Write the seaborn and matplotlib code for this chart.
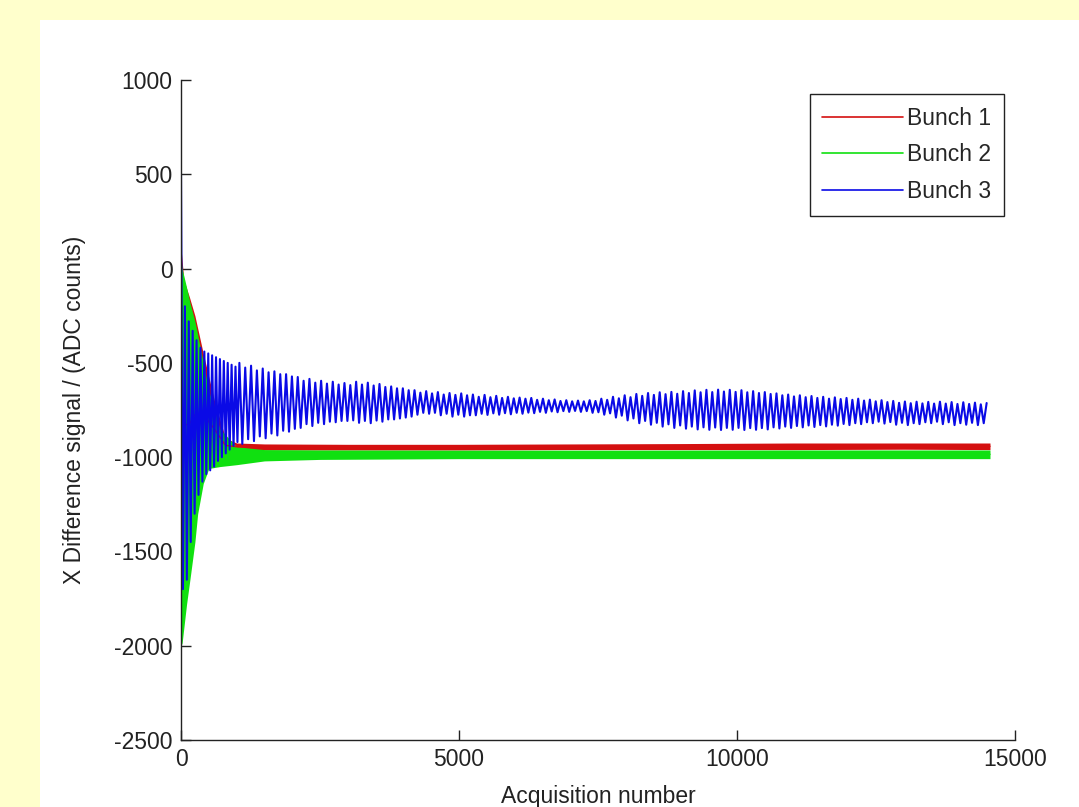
import matplotlib.pyplot as plt
from matplotlib.patches import Rectangle
import numpy as np
import pandas as pd
import seaborn as sns

# acquisition number axis
x_ticks = [0, 5000, 10000, 15000]
y_ticks = [-2500, -2000, -1500, -1000, -500, 0, 500, 1000]

# bunch 1 / bunch 2: band envelope (upper, lower) at knot acquisitions
b1_acq = [0, 50, 150, 250, 400, 600, 800, 1000, 1500, 3000, 5000, 7000, 9000, 11000, 13000, 14550]
b1_hi = [110, -60, -150, -250, -450, -700, -900, -925, -930, -932, -932, -930, -928, -925, -925, -925]
b1_lo = [-1500, -1600, -1500, -1300, -1100, -1000, -975, -965, -962, -962, -962, -960, -960, -960, -958, -960]

b2_acq = [0, 20, 100, 160, 250, 300, 400, 500, 700, 1000, 1500, 2500, 5000, 8000, 11000, 14550]
b2_hi = [50, 0, -100, -180, -280, -350, -500, -650, -850, -945, -960, -962, -963, -963, -962, -962]
b2_lo = [-2000, -1985, -1780, -1650, -1450, -1300, -1140, -1060, -1050, -1040, -1020, -1012, -1008, -1008, -1008, -1008]

# bunch 3: early transient, one sample every 35 acquisitions
b3_early_step = 35
b3_early = [500, -1700, -200, -1650, -280, -1450, -330, -1300, -380, -1200,
            -420, -1130, -440, -1090, -450, -1070, -460, -1050, -470, -1020,
            -480, -1000, -490, -980, -500, -960, -510, -940, -520, -920]

# bunch 3: later oscillation, peaks and troughs alternate every 52.5 acquisitions
b3_start = 1050
b3_step = 52.5
b3_peaks = [-500, -525, -515, -540, -530, -550, -545, -560, -560, -572,
            -575, -595, -585, -605, -595, -610, -600, -615, -607, -618,
            -600, -615, -605, -620, -612, -628, -625, -635, -635, -645,
            -645, -658, -650, -662, -655, -668, -660, -670, -662, -672,
            -668, -680, -670, -682, -675, -686, -680, -688, -684, -690,
            -686, -696, -690, -698, -694, -702, -698, -704, -700, -704,
            -698, -702, -690, -696, -680, -688, -672, -682, -665, -675,
            -660, -670, -656, -666, -654, -664, -650, -660, -646, -656,
            -643, -655, -642, -652, -643, -654, -645, -656, -650, -660,
            -655, -665, -662, -672, -668, -678, -672, -682, -676, -686,
            -680, -690, -683, -692, -686, -696, -690, -700, -695, -704,
            -698, -708, -702, -712, -705, -714, -706, -715, -707, -716,
            -706, -716, -708, -718, -709, -718, -711, -720, -713]
b3_troughs = [-930, -905, -915, -890, -900, -875, -885, -860, -865, -850,
              -845, -825, -835, -818, -825, -812, -815, -808, -808, -805,
              -818, -808, -820, -806, -812, -800, -800, -795, -790, -785,
              -775, -765, -770, -765, -778, -770, -785, -775, -785, -778,
              -778, -770, -776, -768, -775, -767, -773, -765, -770, -764,
              -767, -760, -765, -758, -762, -756, -760, -755, -760, -756,
              -765, -762, -775, -768, -790, -780, -805, -795, -820, -808,
              -828, -818, -838, -826, -845, -832, -849, -838, -853, -842,
              -855, -843, -856, -845, -855, -845, -856, -846, -855, -846,
              -853, -842, -848, -838, -845, -835, -842, -832, -840, -830,
              -837, -828, -833, -824, -830, -820, -825, -815, -820, -812,
              -822, -814, -828, -818, -830, -820, -825, -815, -820, -812,
              -825, -815, -830, -820, -828, -818, -830, -820]

labels = ["Bunch 1", "Bunch 2", "Bunch 3"]
colors = ["#d41010", "#10e010", "#0a0ae6"]


def band_frame(acq, hi, lo):
    return pd.DataFrame({"acq": list(acq) + list(acq), "value": list(hi) + list(lo)})


b3_late = []
for p, t in zip(b3_peaks, b3_troughs + [None]):
    b3_late.append(p)
    if t is not None:
        b3_late.append(t)
b3_acq = list(np.arange(len(b3_early)) * b3_early_step) + \
    list(b3_start + np.arange(len(b3_late)) * b3_step)
df3 = pd.DataFrame({"acq": b3_acq, "value": b3_early + b3_late})

sns.set_theme(style="white")
fs = 16.5
plt.rcParams.update({
    "font.family": ["Liberation Sans", "DejaVu Sans"],
    "font.size": fs,
    "axes.labelsize": fs,
    "xtick.labelsize": fs,
    "ytick.labelsize": fs,
    "legend.fontsize": fs,
    "axes.unicode_minus": False,
})

fig = plt.figure(figsize=(10.79, 8.07), dpi=100, facecolor="#FFFFCC")
fig.add_artist(Rectangle((40 / 1079, 0), 1, 1 - 20 / 807, transform=fig.transFigure,
                         facecolor="white", edgecolor="none", zorder=-10))
ax = fig.add_axes([181 / 1079, 67 / 807, 834 / 1079, 660 / 807])
ax.set_facecolor("white")

for acq, hi, lo, lab, col in [(b1_acq, b1_hi, b1_lo, labels[0], colors[0]),
                              (b2_acq, b2_hi, b2_lo, labels[1], colors[1])]:
    sns.lineplot(data=band_frame(acq, hi, lo), x="acq", y="value", errorbar=("pi", 100),
                 err_kws={"alpha": 1, "linewidth": 0}, color=col, linewidth=1,
                 label=lab, ax=ax)

sns.lineplot(data=df3, x="acq", y="value", estimator=None, color=colors[2],
             linewidth=1.5, label=labels[2], ax=ax)

ax.set_xlim(0, 15000)
ax.set_ylim(-2500, 1000)
ax.set_xticks(x_ticks)
ax.set_yticks(y_ticks)
ax.set_xlabel("Acquisition number", color="#222222", labelpad=10)
ax.set_ylabel("X Difference signal / (ADC counts)", color="#222222", labelpad=20)
ax.tick_params(direction="in", length=7, width=1, colors="#222222",
               labelcolor="#222222", pad=6, left=True, bottom=True)
for side in ["top", "right"]:
    ax.spines[side].set_visible(False)
for side in ["left", "bottom"]:
    ax.spines[side].set_color("#222222")
    ax.spines[side].set_linewidth(1)

leg = ax.legend(loc="upper right", bbox_to_anchor=((1004 - 181) / 834, (740 - 94) / 660),
                borderaxespad=0, handlelength=3.5, handletextpad=0.2, labelspacing=0.6,
                fancybox=False, framealpha=1, edgecolor="#222222", borderpad=0.55)
leg.get_frame().set_linewidth(1)
for line in leg.get_lines():
    line.set_linewidth(1.2)

fig.savefig("out.png", dpi=100, facecolor=fig.get_facecolor())
